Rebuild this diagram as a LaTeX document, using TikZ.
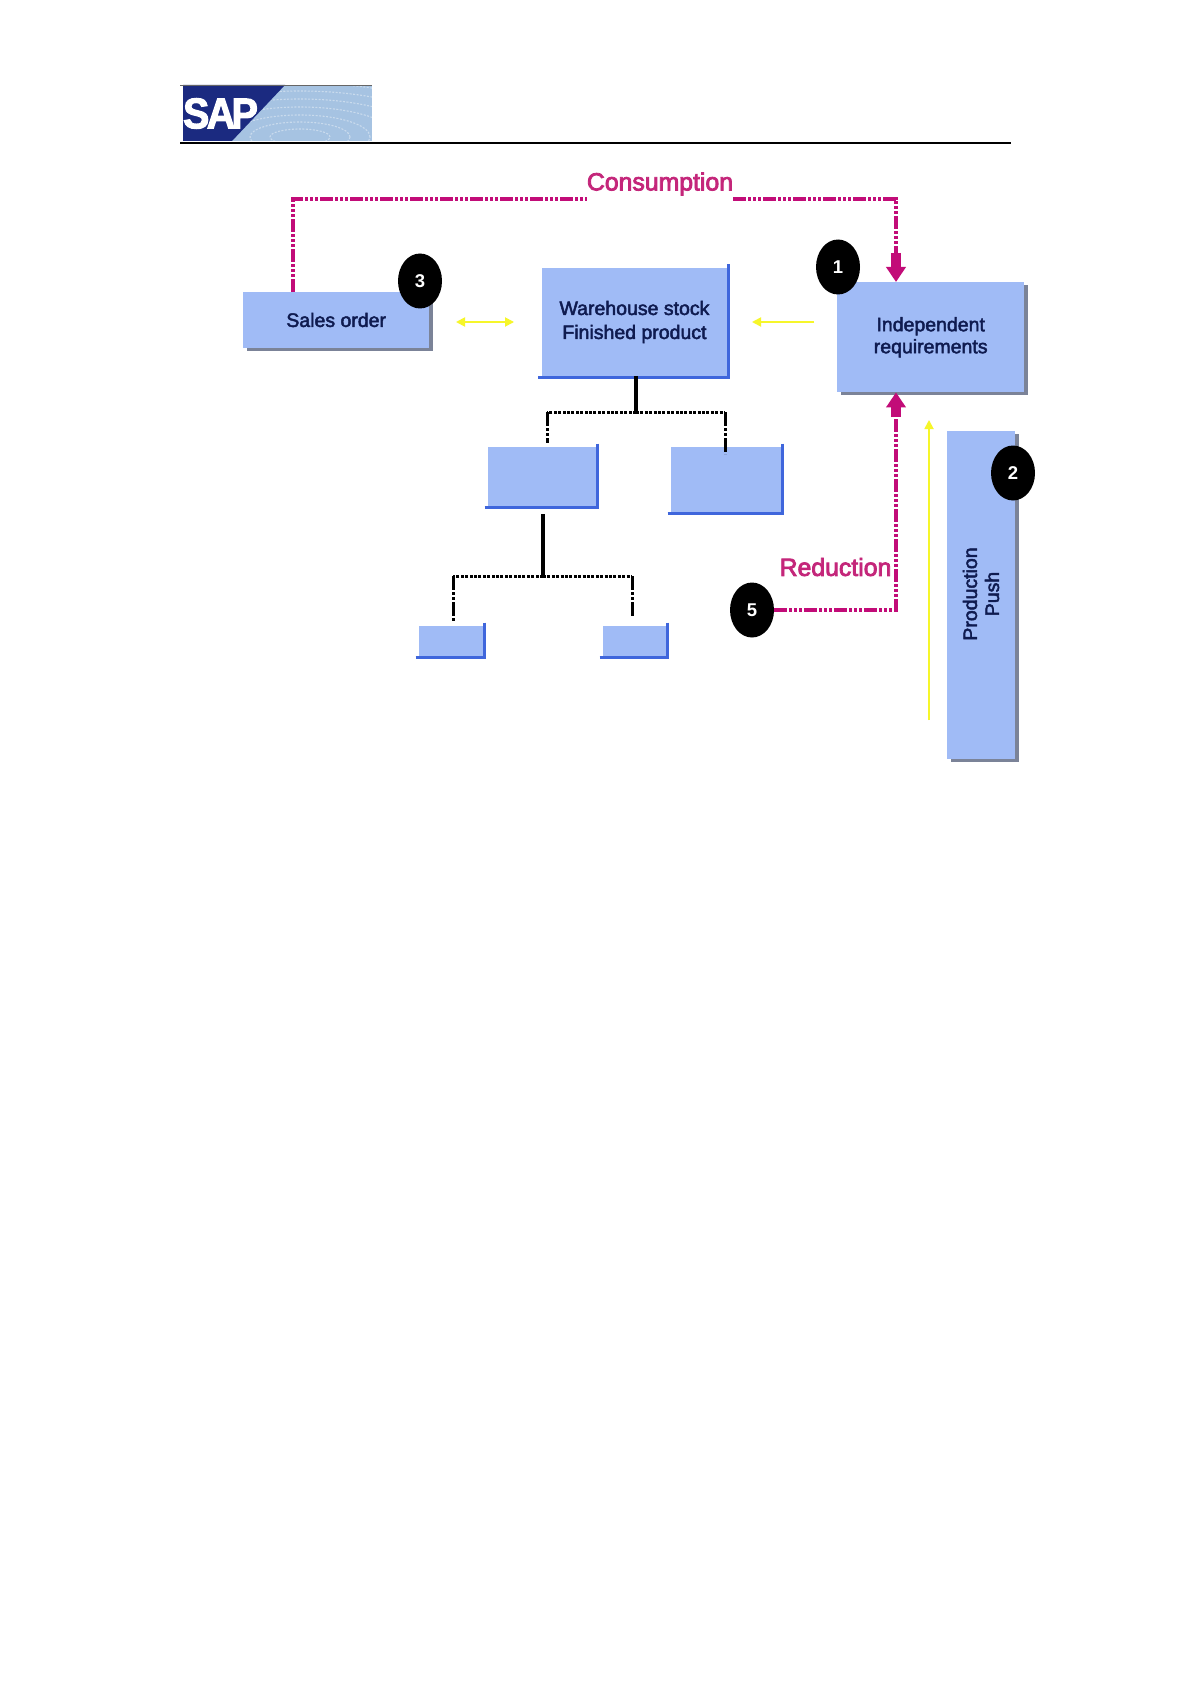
\documentclass[tikz,border=0pt]{standalone}
\usepackage{fontspec}
\setmainfont{Liberation Sans}
\newfontfamily\medfont[FakeBold=2.4]{Liberation Sans}
\newfontfamily\labelfont[FakeBold=3.2]{Liberation Sans}
\newfontfamily\heavyfont[FakeBold=2.5]{Liberation Sans Bold}
\usetikzlibrary{arrows.meta,shapes.geometric,shadows,calc}
\definecolor{boxblue}{HTML}{A0BBF6}
\definecolor{edgeblue}{HTML}{3F66DC}
\definecolor{shadowgray}{HTML}{7B8398}
\definecolor{magline}{HTML}{C20C78}
\definecolor{magtext}{HTML}{C4267A}
\definecolor{boxtext}{HTML}{0F1B50}
\definecolor{yel}{HTML}{F6F62A}
\definecolor{sapdark}{HTML}{1B2A80}
\definecolor{saplight}{HTML}{A6C3E2}
\tikzset{
  shadowbox/.style={anchor=north west,fill=boxblue,inner sep=0pt,text=boxtext,align=center,
    font=\medfont\fontsize{19.5}{22}\selectfont,
    general shadow={fill=shadowgray,shadow xshift=3.5pt,shadow yshift=-3pt}},
  plainbox/.style={anchor=north west,fill=boxblue,inner sep=0pt,text=boxtext,align=center,
    font=\medfont\fontsize{19.5}{24}\selectfont},
  edgeline/.style={draw=edgeblue,line width=2.6pt},
  badge/.style={ellipse,fill=black,text=white,minimum width=44pt,minimum height=55pt,inner sep=0pt,
    font=\bfseries\fontsize{18.5}{20}\selectfont},
  maglabel/.style={text=magtext,inner sep=0pt,font=\labelfont\fontsize{24.8}{28}\selectfont},
  magpath/.style={draw=magline,line width=4.4pt,dash pattern=on 13pt off 2pt on 3pt off 2pt on 3pt off 2pt on 3pt off 2pt},
  magshaft/.style={draw=magline,line width=9.5pt,-{Triangle[width=19pt,length=15pt]}},
  stem/.style={draw=black,line width=3.2pt},
  dotline/.style={draw=black,line width=3pt,dash pattern=on 3pt off 1.4pt},
  dropline/.style={draw=black,line width=3pt,dash pattern=on 14pt off 2pt on 3pt off 2pt on 3pt off 2pt},
  yelarrow/.style={draw=yel,line width=1.8pt},
  yeltip/.tip={Triangle[width=9pt,length=9pt]}
}
\newcommand{\edgesof}[1]{%
  \draw[edgeline] ([yshift=3.5pt,xshift=1.3pt]#1.north east) -- ([xshift=1.3pt,yshift=-1.3pt]#1.south east);
  \draw[edgeline] ([xshift=-3.5pt,yshift=-1.3pt]#1.south west) -- ([xshift=2.6pt,yshift=-1.3pt]#1.south east);
}
\begin{document}
\begin{tikzpicture}[x=1pt,y=-1pt]
\useasboundingbox[fill=white] (0,0) rectangle (1192,1685);
% logo
\fill[saplight] (183,85) rectangle (372,141);
\begin{scope}
  \clip (183,85) rectangle (372,141);
  \foreach \rx/\ry in {30/8,50/15,70/22,95/30,120/38,145/46,170/54}{
    \draw[white,opacity=.4,line width=1.1pt,dash pattern=on 2pt off 1.5pt] (300,137) ellipse [x radius=\rx pt,y radius=\ry pt];
  }
  \fill[sapdark] (183,85) -- (285,85) -- (232,141) -- (183,141) -- cycle;
\end{scope}
\draw[draw=gray!80!black,line width=.8pt] (180,85) -- (372,85);
\node[text=white,inner sep=0pt,anchor=center,xscale=.92,font=\heavyfont\fontsize{43}{45}\selectfont] (saptext) at (220.5,113.5) {S\kern-3pt A\kern-4pt P};
\coordinate (rulea) at (180,143);
\coordinate (ruleb) at (1011,143);
\draw[black,line width=1.2pt] (rulea) -- (ruleb);

% boxes
\node[shadowbox,minimum width=186pt,minimum height=55.5pt] (sales) at (243,292) {Sales order};
\node[shadowbox,minimum width=187pt,minimum height=110pt] (indep) at (837,282) {Independent\\requirements};
\node[shadowbox,minimum width=68pt,minimum height=328pt] (prod) at (947,431) {};
\node[text=boxtext,inner sep=0pt,rotate=90,align=center,font=\medfont\fontsize{19.5}{22}\selectfont] (prodtext) at (981,594) {Production\\Push};
\node[plainbox,minimum width=185.5pt,minimum height=107.5pt] (wh) at (541.5,268) {Warehouse stock\\Finished product};
\edgesof{wh}
\node[plainbox,minimum width=108pt,minimum height=58.5pt] (compa) at (488,447) {};
\edgesof{compa}
\node[plainbox,minimum width=110pt,minimum height=65pt] (compb) at (671,447) {};
\edgesof{compb}
\node[plainbox,minimum width=64pt,minimum height=30pt] (suba) at (419,626) {};
\edgesof{suba}
\node[plainbox,minimum width=63pt,minimum height=30pt] (subb) at (603,626) {};
\edgesof{subb}

% tree
\coordinate (tj1) at (636,412);
\coordinate (tl1) at (547,412);
\coordinate (tr1) at (725,412);
\coordinate (da1) at (547,443);
\coordinate (db1) at (725,454);
\draw[stem] (wh.south -| tj1) -- (tj1);
\draw[dotline] (tj1) -- (tl1);
\draw[dotline] (tj1) -- (tr1);
\draw[dropline] (tl1) -- (da1);
\draw[dropline] (tr1) -- (db1);
\coordinate (tj2) at (543,576);
\coordinate (tl2) at (453,576);
\coordinate (tr2) at (632,576);
\coordinate (da2) at (453,621);
\coordinate (db2) at (632,617);
\coordinate (st2) at (543,514);
\draw[stem] (st2) -- (tj2);
\draw[dotline] (tj2) -- (tl2);
\draw[dotline] (tj2) -- (tr2);
\draw[dropline] (tl2) -- (da2);
\draw[dropline] (tr2) -- (db2);

% labels
\node[maglabel] (cons) at (660,184) {Consumption};
\node[maglabel] (redu) at (835.5,567) {Reduction};

% badges
\node[badge] (b3) at (420,281) {3};
\node[badge] (b1) at (838,267) {1};
\node[badge] (b2) at (1013,473) {2};
\node[badge] (b5) at (752,610) {5};

% magenta connectors
\coordinate (ct1) at (293,199);
\coordinate (ct2) at (896,199);
\coordinate (ca) at (896,253);
\draw[magpath] (sales.north -| ct1) -- (ct1) -- (ct1 -| cons.west);
\draw[magpath] (ct2 -| cons.east) -- (ct2) -- (ca);
\draw[magshaft] (ca) -- (indep.north -| ca);
\coordinate (rc) at (896,610);
\coordinate (ra) at (896,417);
\draw[magpath] (b5.east) -- (rc) -- (ra);
\draw[magshaft] (ra) -- (indep.south -| ra);

% yellow arrows
\coordinate (ya) at (456,322);
\coordinate (yb) at (514,322);
\draw[yelarrow,yeltip-yeltip] (ya) -- (yb);
\coordinate (yc) at (814,322);
\coordinate (yd) at (752,322);
\draw[yelarrow,-yeltip] (yc) -- (yd);
\coordinate (ye) at (929,720);
\coordinate (yf) at (929,420);
\draw[yelarrow,-yeltip] (ye) -- (yf);
\end{tikzpicture}
\end{document}
